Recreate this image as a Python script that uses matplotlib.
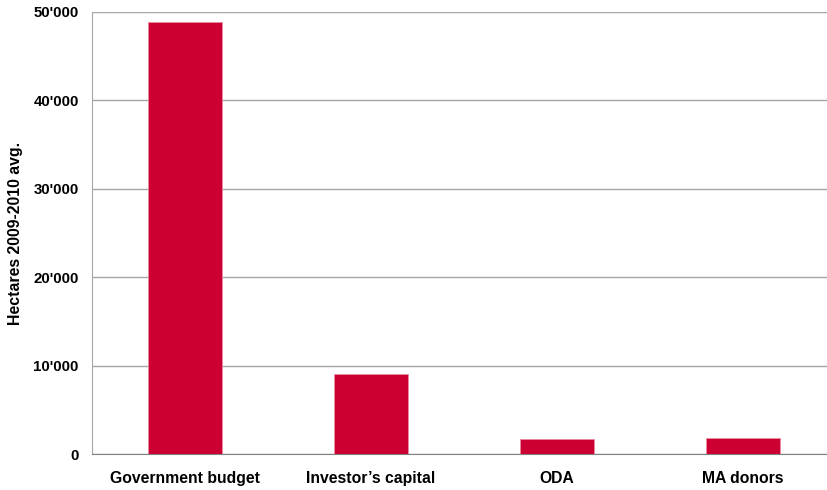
import matplotlib.pyplot as plt
from matplotlib.ticker import FuncFormatter

categories = ['Government budget', 'Investor\u2019s capital', 'ODA', 'MA donors']
hectares = [48900, 9000, 1700, 1780]
y_ticks = [0, 10000, 20000, 30000, 40000, 50000]

plt.rcParams['font.family'] = ['Liberation Sans', 'DejaVu Sans']
plt.rcParams['font.weight'] = 'bold'

fig = plt.figure(figsize=(8.28, 4.90), dpi=100)
ax = fig.add_axes([92 / 828, 36 / 490, 736 / 828, 442 / 490])

ax.bar(range(len(categories)), hectares, width=0.4, color='#CC0033',
       edgecolor='#E88AA0', linewidth=0.6, zorder=3)

ax.set_xlim(-0.5, 3.457)
ax.set_ylim(0, 50000)
ax.set_yticks(y_ticks)
ax.yaxis.set_major_formatter(FuncFormatter(lambda v, p: f"{int(v):,}".replace(',', "'")))
ax.set_xticks(range(len(categories)))
ax.set_xticklabels(categories, fontsize=11.3)

ax.grid(axis='y', color='#A6A6A6', linewidth=1.0, zorder=0)
ax.tick_params(axis='both', length=0)
ax.tick_params(axis='y', pad=9.5, labelsize=10.8)
ax.tick_params(axis='x', pad=12)

for side in ['top', 'right']:
    ax.spines[side].set_visible(False)
ax.spines['left'].set_color('#A6A6A6')
ax.spines['bottom'].set_color('#808080')

ax.set_ylabel('Hectares 2009-2010 avg.', fontsize=11.4, fontweight='bold')
ax.yaxis.set_label_coords(-0.094, 0.5)

fig.savefig('out.png', dpi=100)
